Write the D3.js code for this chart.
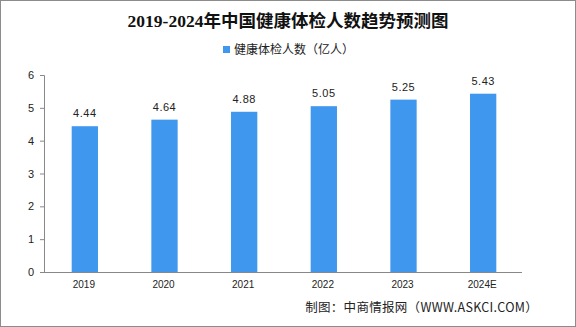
<!DOCTYPE html>
<html><head><meta charset="utf-8">
<script src="https://cdn.jsdelivr.net/npm/d3@7"></script>
<style>body{margin:0;background:#fff}svg{display:block}</style>
</head><body>
<script>
const categories = ["2019","2020","2021","2022","2023","2024E"];
const values = [4.44, 4.64, 4.88, 5.05, 5.25, 5.43];
const valueLabels = ["4.44","4.64","4.88","5.05","5.25","5.43"];
const yTicks = [0,1,2,3,4,5,6];
const title = "2019-2024年中国健康体检人数趋势预测图";
const seriesName = "健康体检人数（亿人）";
const source = "制图：中商情报网（WWW.ASKCI.COM）";

const W = 576, H = 327;
const svg = d3.select("body").append("svg").attr("width", W).attr("height", H);
svg.append("rect").attr("x",0.5).attr("y",0.5).attr("width",W-1).attr("height",H-1)
  .attr("fill","#fff").attr("stroke","#8c8c8c");

const plot = {left:44, right:522, top:75, bottom:272};
const x = d3.scaleBand().domain(categories).range([plot.left, plot.right]).paddingInner(0.67).paddingOuter(0.335);
const y = d3.scaleLinear().domain([0,6]).range([plot.bottom, plot.top]);

const font = "'Liberation Sans','DejaVu Sans',sans-serif";

svg.append("text").attr("x", 288).attr("y", 27).attr("text-anchor","middle")
  .attr("font-family","'Liberation Serif','Noto Sans CJK SC',serif").attr("font-weight","bold")
  .attr("font-size",17.5).attr("fill","#111").text(title);

// legend
svg.append("rect").attr("x",223).attr("y",46).attr("width",7).attr("height",7).attr("fill","#3f97ee");
svg.append("text").attr("x",234).attr("y",54).attr("font-family","'Noto Sans CJK SC',sans-serif")
  .attr("font-size",12).attr("fill","#222").text(seriesName);

// y axis
const yAxis = d3.axisLeft(y).tickValues(yTicks).tickSize(4).tickPadding(6).tickFormat(d3.format("d"));
const gy = svg.append("g").attr("transform",`translate(${plot.left},0)`).call(yAxis);
gy.select(".domain").attr("stroke","#888");
gy.selectAll(".tick line").attr("stroke","#888");
gy.selectAll(".tick text").attr("font-family",font).attr("font-size",11).attr("fill","#222");

// x axis
const xAxis = d3.axisBottom(x).tickSize(0).tickPadding(9);
const gx = svg.append("g").attr("transform",`translate(0,${plot.bottom})`).call(xAxis);
gx.select(".domain").attr("stroke","#888").attr("d",`M${plot.left},0.5H${plot.right}`);
gx.selectAll(".tick text").attr("font-family",font).attr("font-size",10).attr("fill","#222");

// bars
svg.append("g").selectAll("rect").data(values).join("rect")
  .attr("x",(d,i)=>x(categories[i])+1).attr("width",x.bandwidth())
  .attr("y",d=>y(d)).attr("height",d=>y(0)-y(d)).attr("fill","#3f97ee");

svg.append("g").selectAll("text").data(values).join("text")
  .attr("x",(d,i)=>x(categories[i])+x.bandwidth()/2+1).attr("y",d=>y(d)-9)
  .attr("text-anchor","middle").attr("font-family",font).attr("font-size",11).attr("fill","#222")
  .attr("letter-spacing",0.5)
  .text((d,i)=>valueLabels[i]);

svg.append("text").attr("x",538).attr("y",312).attr("text-anchor","end")
  .attr("font-family","'Noto Sans CJK SC',sans-serif").attr("font-size",12.5).attr("fill","#222")
  .attr("letter-spacing",0.3).text(source);
</script>
</body></html>
